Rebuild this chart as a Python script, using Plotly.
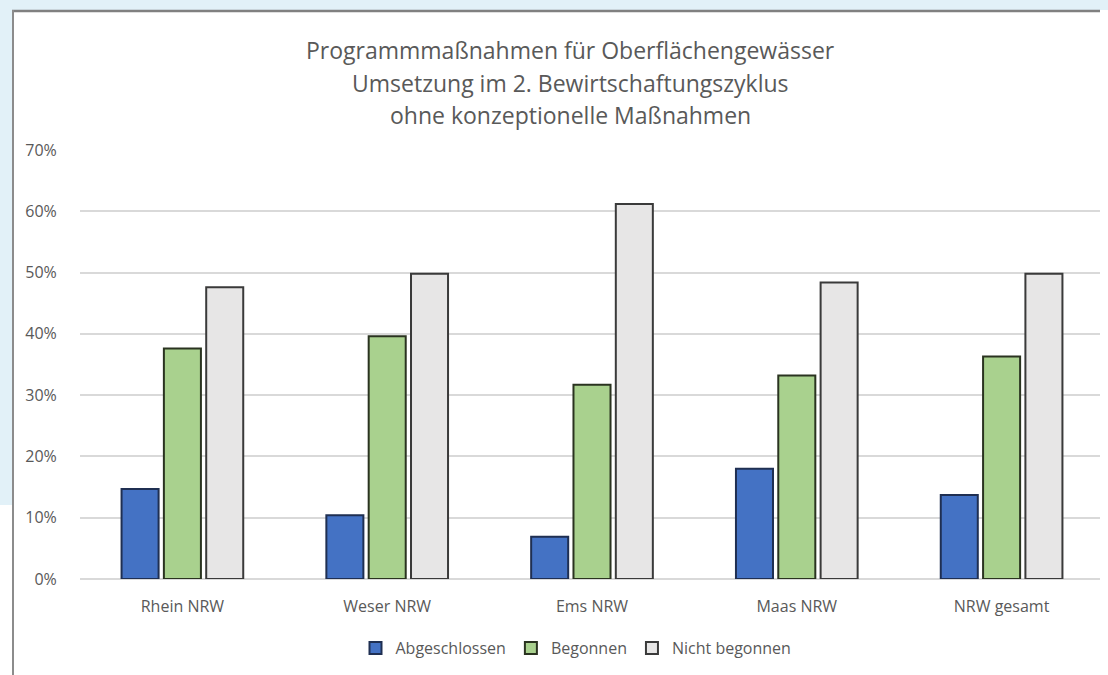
import plotly.graph_objects as go

categories = ["Rhein NRW", "Weser NRW", "Ems NRW", "Maas NRW", "NRW gesamt"]
abgeschlossen = [0.147, 0.104, 0.069, 0.180, 0.137]
begonnen = [0.376, 0.396, 0.317, 0.332, 0.363]
nicht_begonnen = [0.476, 0.498, 0.612, 0.484, 0.498]
title_lines = ["Programmmaßnahmen für Oberflächengewässer",
               "Umsetzung im 2. Bewirtschaftungszyklus",
               "ohne konzeptionelle Maßnahmen"]
tick_vals = [0, 0.1, 0.2, 0.3, 0.4, 0.5, 0.6, 0.7]
tick_text = ["0%", "10%", "20%", "30%", "40%", "50%", "60%", "70%"]

W, H = 1108, 675
OFF = 8  # page offset of the figure (body margin)
# plot area in page pixels: x 80..1104, y 150..579
L = 80 - OFF
R = W - (1104 - OFF)
T = 150 - OFF
B = H - (579 - OFF)
pw, ph = W - L - R, H - T - B

def px_x(px):
    return (px - OFF - L) / pw

def px_y(py):
    return (H - B - (py - OFF)) / ph

FONT = "Open Sans"
TXT = "#595959"
BLUE_BG = "#E2F1F8"

fig = go.Figure()
series = [
    ("Abgeschlossen", abgeschlossen, "#4472C4", "#1F2F52"),
    ("Begonnen", begonnen, "#A9D18E", "#2A3320"),
    ("Nicht begonnen", nicht_begonnen, "#E7E6E6", "#3A3A3A"),
]
for name, vals, col, lc in series:
    fig.add_trace(go.Bar(x=categories, y=vals, name=name,
                         marker=dict(color=col, line=dict(color=lc, width=2))))

shapes = [
    dict(type="rect", xref="paper", yref="paper", x0=px_x(0), x1=px_x(W + 20), y0=px_y(-20), y1=px_y(10),
         fillcolor=BLUE_BG, line=dict(width=0), layer="below"),
    dict(type="rect", xref="paper", yref="paper", x0=px_x(-20), x1=px_x(12), y0=px_y(-20), y1=px_y(505),
         fillcolor=BLUE_BG, line=dict(width=0), layer="below"),
    dict(type="line", xref="paper", yref="paper", x0=px_x(12), x1=px_x(W + 20), y0=px_y(11), y1=px_y(11),
         line=dict(color="#808080", width=2.5)),
    dict(type="line", xref="paper", yref="paper", x0=px_x(13), x1=px_x(13), y0=px_y(10), y1=px_y(H + 20),
         line=dict(color="#8C8C8C", width=2)),
]

annotations = []
for line, py in zip(title_lines, [50, 83, 115]):
    annotations.append(dict(text=line, xref="paper", yref="paper", x=px_x(570), y=px_y(py),
                            xanchor="center", yanchor="middle", showarrow=False,
                            font=dict(family=FONT, size=23, color=TXT)))

fig.update_layout(
    width=W, height=H,
    margin=dict(l=L, r=R, t=T, b=B),
    paper_bgcolor="white", plot_bgcolor="white",
    barmode="group", bargap=0.38, bargroupgap=0.125,
    shapes=shapes, annotations=annotations,
    showlegend=True,
    legend=dict(orientation="h", x=px_x(576), xanchor="center", y=px_y(648), yanchor="middle",
                font=dict(family=FONT, size=16, color=TXT), itemwidth=30,
                traceorder="normal"),
    font=dict(family=FONT, color=TXT),
)
fig.update_yaxes(range=[0, 0.7], tickvals=tick_vals, ticktext=tick_text,
                 showgrid=True, gridcolor="#D9D9D9", gridwidth=1.5,
                 zeroline=True, zerolinecolor="#D9D9D9", zerolinewidth=1.5,
                 showline=False, ticks="outside", ticklen=19, tickcolor="rgba(0,0,0,0)",
                 tickfont=dict(family=FONT, size=16, color=TXT), fixedrange=True)
fig.update_xaxes(showgrid=False, showline=False, ticks="outside", ticklen=13,
                 tickcolor="rgba(0,0,0,0)",
                 tickfont=dict(family=FONT, size=16, color=TXT), fixedrange=True)

# page background behind the 8px body margin: light blue top strip and upper-left strip
post = ("document.body.style.background = "
        "'linear-gradient(#E2F1F8,#E2F1F8) 0 0 / 100% 10px no-repeat, "
        "linear-gradient(#E2F1F8,#E2F1F8) 0 0 / 8px 505px no-repeat, #ffffff';")
fig.write_html("out.html", post_script=post)
